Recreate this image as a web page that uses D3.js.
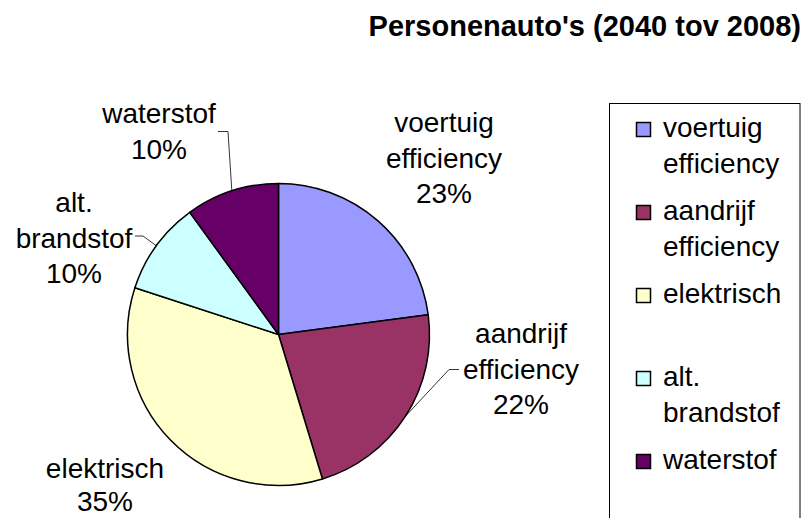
<!DOCTYPE html>
<html>
<head>
<meta charset="utf-8">
<script src="https://cdn.jsdelivr.net/npm/d3@7"></script>
<style>
  html, body { margin: 0; padding: 0; background: #fff; }
  svg { display: block; font-family: "Liberation Sans", Arial, sans-serif; }
</style>
</head>
<body>
<svg id="chart" width="806" height="518"></svg>
<script>
// ---- data ----
const title = "Personenauto's (2040 tov 2008)";
const categories = ["voertuig efficiency", "aandrijf efficiency", "elektrisch", "alt. brandstof", "waterstof"];
const categoryLines = [["voertuig", "efficiency"], ["aandrijf", "efficiency"], ["elektrisch"], ["alt.", "brandstof"], ["waterstof"]];
const values = [22.9, 22.4, 34.7, 10.0, 10.0];
const colors = ["#9999FF", "#993366", "#FFFFCC", "#CCFFFF", "#660066"];

// ---- layout ----
const W = 806, H = 518;
const cx = 278.5, cy = 334.5, R = 151;
const fontSize = 28, lineH = 35.5;
// label anchor (center x, first baseline y) and optional leader elbow [textEdgeX, elbowX, y]
const labelLayout = [
  { x: 444, y: 132, leader: null, lh: lineH },
  { x: 521, y: 343, leader: [459, 449, 369.5], lh: lineH },
  { x: 105, y: 478, leader: null, lh: 33 },
  { x: 74,  y: 212, leader: [135, 143, 236], lh: lineH },
  { x: 159, y: 123, leader: [218, 228, 131.5], lh: lineH }
];
const legendBox = { x: 609.5, y: 103.5, w: 190.5, h: 440 };
const legendItem = { x0: 636, textX: 663, y0: 137, step: 83, sw: 15 };

const svg = d3.select("#chart");

// title
svg.append("text")
  .attr("x", 801).attr("y", 36)
  .attr("text-anchor", "end")
  .attr("font-weight", "bold")
  .attr("font-size", 29)
  .attr("fill", "#000")
  .text(title);

// pie
const pie = d3.pie().sort(null).value(d => d).startAngle(0).endAngle(2 * Math.PI);
const arcs = pie(values);
const arc = d3.arc().innerRadius(0).outerRadius(R);
const color = d3.scaleOrdinal().domain(categories).range(colors);

const g = svg.append("g").attr("transform", `translate(${cx},${cy})`);
g.selectAll("path.slice")
  .data(arcs)
  .enter().append("path")
  .attr("class", "slice")
  .attr("d", arc)
  .attr("fill", (d, i) => color(categories[i]))
  .attr("stroke", "#000")
  .attr("stroke-width", 1.5)
  .attr("stroke-linejoin", "round");

// leader lines
arcs.forEach((d, i) => {
  const L = labelLayout[i].leader;
  if (!L) return;
  const mid = (d.startAngle + d.endAngle) / 2;
  const px = cx + R * Math.sin(mid), py = cy - R * Math.cos(mid);
  svg.append("path")
    .attr("d", `M${L[0]},${L[2]}L${L[1]},${L[2]}L${px},${py}`)
    .attr("fill", "none")
    .attr("stroke", "#000")
    .attr("stroke-width", 0.8);
});

// labels
const total = d3.sum(values);
arcs.forEach((d, i) => {
  const lay = labelLayout[i];
  const lines = categoryLines[i].concat([Math.round(d.data / total * 100) + "%"]);
  const t = svg.append("text")
    .attr("text-anchor", "middle")
    .attr("font-size", fontSize)
    .attr("fill", "#000");
  lines.forEach((ln, j) => {
    t.append("tspan").attr("x", lay.x).attr("y", lay.y + j * lay.lh).text(ln);
  });
});

// legend
svg.append("rect")
  .attr("x", legendBox.x).attr("y", legendBox.y)
  .attr("width", legendBox.w).attr("height", legendBox.h)
  .attr("fill", "#fff").attr("stroke", "#000").attr("stroke-width", 1);

categories.forEach((c, i) => {
  const by = legendItem.y0 + i * legendItem.step;
  svg.append("rect")
    .attr("x", legendItem.x0 + 0.5).attr("y", by - legendItem.sw + 0.5)
    .attr("width", legendItem.sw - 1).attr("height", legendItem.sw - 1)
    .attr("fill", color(c)).attr("stroke", "#000").attr("stroke-width", 1.5);
  const t = svg.append("text").attr("font-size", fontSize).attr("fill", "#000");
  categoryLines[i].forEach((ln, j) => {
    t.append("tspan").attr("x", legendItem.textX).attr("y", by + j * lineH).text(ln);
  });
});
</script>
</body>
</html>
